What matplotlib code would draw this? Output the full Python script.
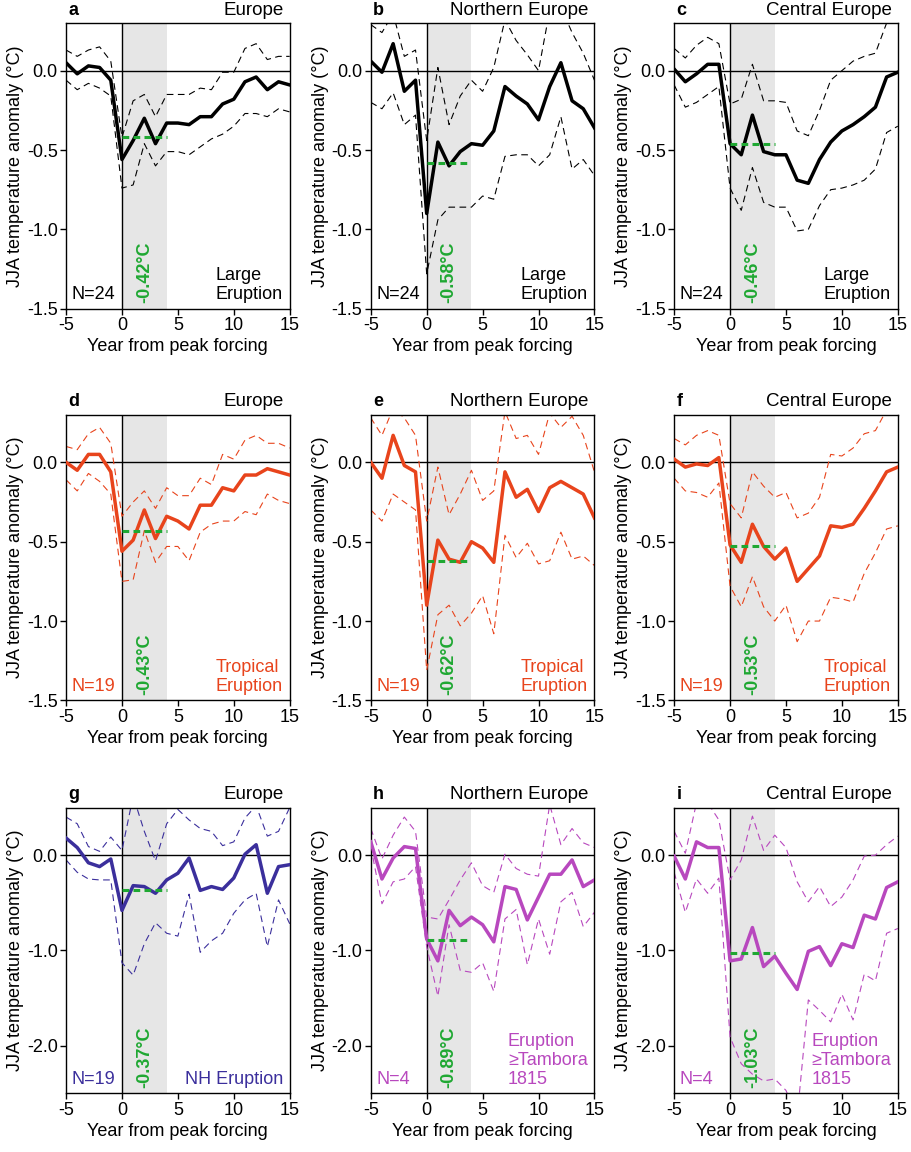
import matplotlib
matplotlib.use('Agg')
import matplotlib.pyplot as plt

plt.rcParams['font.family'] = ['Liberation Sans', 'DejaVu Sans']
plt.rcParams['axes.unicode_minus'] = False

years = list(range(-5, 16))

# row 1: large eruptions
a_mean = [0.05, -0.02, 0.03, 0.02, -0.06, -0.56, -0.44, -0.30, -0.46, -0.33, -0.33, -0.34, -0.29, -0.29, -0.21, -0.18, -0.07, -0.04, -0.12, -0.07, -0.09]
a_upper = [0.13, 0.09, 0.13, 0.15, 0.06, -0.42, -0.19, -0.15, -0.29, -0.15, -0.15, -0.15, -0.11, -0.12, -0.01, -0.01, 0.14, 0.17, 0.07, 0.09, 0.09]
a_lower = [-0.06, -0.12, -0.08, -0.11, -0.16, -0.74, -0.72, -0.46, -0.60, -0.51, -0.51, -0.53, -0.48, -0.43, -0.40, -0.35, -0.27, -0.27, -0.29, -0.24, -0.26]

b_mean = [0.06, -0.01, 0.17, -0.13, -0.06, -0.90, -0.45, -0.60, -0.51, -0.46, -0.47, -0.38, -0.10, -0.16, -0.21, -0.31, -0.10, 0.05, -0.19, -0.24, -0.36]
b_upper = [0.29, 0.24, 0.36, 0.09, 0.13, -0.44, 0.02, -0.34, -0.16, -0.06, -0.13, 0.02, 0.32, 0.19, 0.10, 0.00, 0.38, 0.40, 0.24, 0.11, -0.06]
b_lower = [-0.20, -0.24, -0.14, -0.34, -0.28, -1.28, -0.94, -0.86, -0.86, -0.86, -0.79, -0.81, -0.54, -0.53, -0.53, -0.60, -0.53, -0.29, -0.62, -0.56, -0.66]

c_mean = [0.01, -0.07, -0.02, 0.04, 0.04, -0.46, -0.53, -0.28, -0.51, -0.53, -0.53, -0.69, -0.71, -0.56, -0.45, -0.38, -0.34, -0.29, -0.23, -0.04, -0.01]
c_upper = [0.14, 0.08, 0.16, 0.21, 0.17, -0.21, -0.18, 0.04, -0.19, -0.19, -0.20, -0.38, -0.41, -0.25, -0.06, 0.00, 0.06, 0.09, 0.11, 0.30, 0.40]
c_lower = [-0.09, -0.23, -0.20, -0.15, -0.10, -0.74, -0.88, -0.61, -0.83, -0.86, -0.86, -1.01, -1.00, -0.85, -0.75, -0.74, -0.72, -0.69, -0.62, -0.39, -0.35]

# row 2: tropical eruptions
d_mean = [0.00, -0.05, 0.05, 0.05, -0.06, -0.56, -0.49, -0.30, -0.48, -0.34, -0.37, -0.42, -0.27, -0.27, -0.16, -0.18, -0.08, -0.08, -0.04, -0.06, -0.08]
d_upper = [0.10, 0.08, 0.18, 0.22, 0.12, -0.34, -0.25, -0.18, -0.29, -0.16, -0.21, -0.21, -0.10, -0.14, 0.05, 0.02, 0.14, 0.17, 0.12, 0.12, 0.09]
d_lower = [-0.11, -0.18, -0.07, -0.12, -0.20, -0.75, -0.74, -0.43, -0.63, -0.53, -0.53, -0.62, -0.44, -0.39, -0.37, -0.37, -0.31, -0.33, -0.20, -0.24, -0.26]

e_mean = [0.00, -0.10, 0.17, -0.02, -0.06, -0.90, -0.49, -0.61, -0.63, -0.50, -0.54, -0.63, -0.06, -0.22, -0.17, -0.31, -0.16, -0.12, -0.16, -0.20, -0.35]
e_upper = [0.28, 0.17, 0.34, 0.28, 0.17, -0.37, -0.03, -0.33, -0.20, -0.05, -0.24, -0.18, 0.32, 0.15, 0.17, 0.05, 0.31, 0.22, 0.29, 0.17, -0.06]
e_lower = [-0.30, -0.37, -0.20, -0.25, -0.30, -1.31, -0.96, -0.90, -1.03, -0.95, -0.84, -1.08, -0.46, -0.60, -0.51, -0.64, -0.62, -0.44, -0.61, -0.59, -0.65]

f_mean = [0.02, -0.03, -0.01, -0.02, 0.03, -0.52, -0.63, -0.39, -0.53, -0.61, -0.54, -0.75, -0.67, -0.59, -0.40, -0.41, -0.39, -0.29, -0.18, -0.06, -0.03]
f_upper = [0.15, 0.11, 0.17, 0.20, 0.17, -0.26, -0.35, -0.06, -0.15, -0.22, -0.19, -0.35, -0.32, -0.22, 0.05, 0.04, 0.09, 0.18, 0.20, 0.33, 0.42]
f_lower = [-0.10, -0.18, -0.19, -0.22, -0.13, -0.78, -0.91, -0.72, -0.91, -1.00, -0.90, -1.13, -1.00, -1.00, -0.85, -0.86, -0.88, -0.70, -0.57, -0.42, -0.40]

# row 3: NH eruptions and eruptions >= Tambora 1815
g_mean = [0.18, 0.08, -0.08, -0.12, -0.04, -0.58, -0.32, -0.33, -0.40, -0.26, -0.19, -0.03, -0.37, -0.33, -0.36, -0.24, 0.01, 0.11, -0.40, -0.12, -0.10]
g_upper = [0.40, 0.33, 0.09, 0.04, 0.19, 0.05, 0.62, 0.25, -0.06, 0.33, 0.48, 0.37, 0.28, 0.25, 0.10, 0.14, 0.39, 0.52, 0.20, 0.25, 0.50]
g_lower = [-0.05, -0.18, -0.25, -0.26, -0.26, -1.13, -1.26, -0.93, -0.71, -0.82, -0.85, -0.41, -1.02, -0.90, -0.82, -0.61, -0.47, -0.40, -0.96, -0.47, -0.72]

h_mean = [0.14, -0.25, -0.03, 0.09, 0.07, -0.88, -1.11, -0.58, -0.74, -0.65, -0.73, -0.91, -0.33, -0.36, -0.68, -0.44, -0.20, -0.20, -0.05, -0.33, -0.26]
h_upper = [0.28, -0.04, 0.21, 0.40, 0.25, -0.65, -0.67, -0.47, -0.26, -0.08, -0.32, -0.39, 0.01, -0.14, -0.20, -0.22, 0.53, 0.11, 0.28, 0.13, 0.08]
h_lower = [0.09, -0.51, -0.28, -0.25, -0.12, -0.96, -1.48, -0.73, -1.21, -1.23, -1.13, -1.43, -0.67, -0.57, -1.15, -0.67, -1.04, -0.49, -0.39, -0.75, -0.60]

i_mean = [-0.01, -0.25, 0.14, 0.08, 0.08, -1.11, -1.09, -0.76, -1.17, -1.06, -1.24, -1.41, -1.01, -0.96, -1.16, -0.93, -0.97, -0.63, -0.67, -0.34, -0.28]
i_upper = [0.25, 0.02, 0.55, 0.55, 0.37, -0.26, -0.05, 0.41, 0.05, 0.21, 0.08, -0.28, -0.49, -0.33, -0.54, -0.44, -0.26, -0.01, 0.00, 0.11, 0.20]
i_lower = [-0.18, -0.60, -0.25, -0.40, -0.24, -1.91, -2.19, -2.30, -2.37, -2.35, -2.47, -2.75, -1.52, -1.63, -1.75, -1.46, -1.73, -1.25, -1.32, -0.82, -0.77]

letters = ['a', 'b', 'c', 'd', 'e', 'f', 'g', 'h', 'i']
regions = ['Europe', 'Northern Europe', 'Central Europe'] * 3
n_labels = ['N=24'] * 3 + ['N=19'] * 3 + ['N=19', 'N=4', 'N=4']
eruption_labels = ['Large\nEruption'] * 3 + ['Tropical\nEruption'] * 3 + \
    ['NH Eruption', 'Eruption\n\u2265Tambora\n1815', 'Eruption\n\u2265Tambora\n1815']
mean_responses = [-0.42, -0.58, -0.46, -0.43, -0.62, -0.53, -0.37, -0.89, -1.03]
means = [a_mean, b_mean, c_mean, d_mean, e_mean, f_mean, g_mean, h_mean, i_mean]
uppers = [a_upper, b_upper, c_upper, d_upper, e_upper, f_upper, g_upper, h_upper, i_upper]
lowers = [a_lower, b_lower, c_lower, d_lower, e_lower, f_lower, g_lower, h_lower, i_lower]
colors = ['black'] * 3 + ['#e8441c'] * 3 + ['#3b2f9c', '#b848be', '#b848be']

green = '#1fa832'

fig = plt.figure(figsize=(9.11, 11.52), dpi=100)
lefts = [0.0725, 0.407, 0.740]
bottoms = [0.732, 0.392, 0.051]
w, h = 0.2455, 0.248

for k in range(9):
    row, col = divmod(k, 3)
    ax = fig.add_axes([lefts[col], bottoms[row], w, h])
    c = colors[k]

    ax.axvspan(0, 4, color='#e6e6e6', lw=0, zorder=0)
    ax.axhline(0, color='black', lw=1.0, zorder=1)
    ax.axvline(0, color='black', lw=1.0, zorder=1)
    ax.plot(years, uppers[k], color=c, lw=0.8, ls=(0, (6, 4)), zorder=2)
    ax.plot(years, lowers[k], color=c, lw=0.8, ls=(0, (6, 4)), zorder=2)
    ax.plot(years, means[k], color=c, lw=2.5, zorder=3)
    ax.plot([0, 4], [mean_responses[k], mean_responses[k]], color=green,
            lw=2.2, ls=(0, (2.2, 1.4)), zorder=4)

    ax.set_xlim(-5, 15)
    ax.set_xticks([-5, 0, 5, 10, 15])
    if row < 2:
        ax.set_ylim(-1.5, 0.3)
        ax.set_yticks([0, -0.5, -1.0, -1.5])
    else:
        ax.set_ylim(-2.5, 0.5)
        ax.set_yticks([0, -1.0, -2.0])
    ax.set_yticklabels(['%.1f' % t for t in ax.get_yticks()])
    ax.tick_params(direction='out', length=4, width=1, labelsize=13, pad=2)
    for s in ax.spines.values():
        s.set_linewidth(1.0)

    ax.set_xlabel('Year from peak forcing', fontsize=13, labelpad=3)
    ax.set_ylabel('JJA temperature anomaly (\u00b0C)', fontsize=13, labelpad=2)

    ax.text(0.01, 1.015, letters[k], transform=ax.transAxes, ha='left',
            va='bottom', fontsize=13, fontweight='bold')
    ax.text(0.975, 1.015, regions[k], transform=ax.transAxes, ha='right',
            va='bottom', fontsize=13.5)
    ax.text(0.025, 0.02, n_labels[k], transform=ax.transAxes, ha='left',
            va='bottom', fontsize=13, color=c)
    ax.text(0.97, 0.02, eruption_labels[k], transform=ax.transAxes, ha='right',
            va='bottom', fontsize=13, color=c, linespacing=1.15,
            multialignment='left')
    ax.text(2, 0.02, '%.2f\u00b0C' % mean_responses[k],
            transform=ax.get_xaxis_transform(), rotation=90, ha='center',
            va='bottom', fontsize=13, fontweight='bold', color=green)

fig.savefig('out.png', dpi=100)
